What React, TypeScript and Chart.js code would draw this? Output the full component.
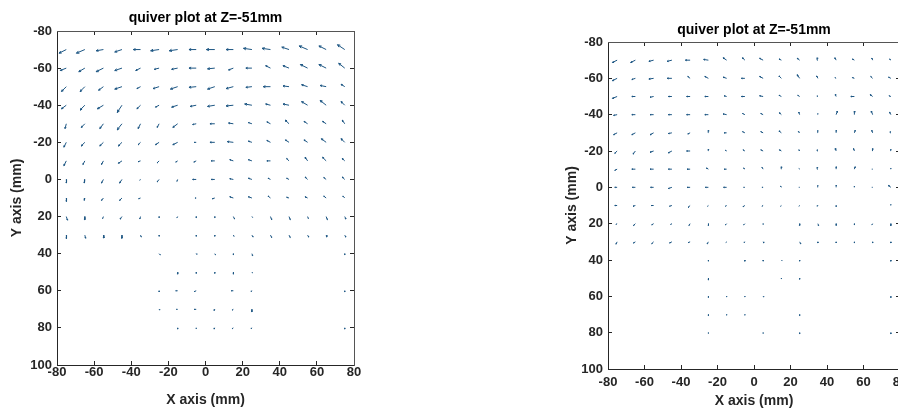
import React, { useEffect, useRef } from 'react';
import { Chart, registerables } from 'chart.js';

Chart.register(...registerables);

// ---------- data ----------
const TITLE = 'quiver plot at Z=-51mm';
const X_LABEL = 'X axis (mm)';
const Y_LABEL = 'Y axis (mm)';

const X_TICKS = [-80, -60, -40, -20, 0, 20, 40, 60, 80];
const Y_TICKS = [-80, -60, -40, -20, 0, 20, 40, 60, 80, 100];

// grid positions of the arrows (mm)
const X_GRID = [-75, -65, -55, -45, -35, -25, -15, -5, 5, 15, 25, 35, 45, 55, 65, 75];
const Y_ROWS = [-70, -60, -50, -40, -30, -20, -10, 0, 10, 20, 30, 40, 50, 60, 70, 80];

const n = null;

// left panel: arrow components (rows = Y_ROWS, columns = X_GRID)
const LEFT_U: (number | null)[][] = [
  [-3, -3.5, -3, -3, -3, -3.5, -3.5, -3, -3.5, -3, -3.5, -3.5, -3, -3.5, -3, -3],
  [-2.5, -2.5, -3, -3, -2, -2, -2.5, -3, -3, -2, -2.5, -2, -2.5, -3, -3, -2.5],
  [-2, -2, -2, -3, -1.5, -2.5, -3, -3, -3, -3, -2.5, -3, -2.5, -2.5, -2.5, -1.5],
  [-2, -2, -2.5, -2, -1.5, -1.5, -2.5, -2.5, -3, -3, -3, -2, -2.5, -2.5, -2.5, -1.5],
  [-0.5, -1.5, -1.5, -2, -1, -0.8, -2, -1.5, -2, -2, -1.5, -1.5, -1.5, -1.5, -1.5, -1],
  [-1, -1.5, -1.5, -1.5, -1, -1.5, -2, -0.8, -2, -2.5, -1.5, -1.5, -1.5, -1.5, -2, -1.5],
  [-1, -0.8, -0.8, -1.5, -1, -0.8, -0.8, -1, -1.5, -1.5, -1.5, -1.5, -1, -1, -1.5, -1],
  [0, -0.3, -0.8, -1, -0.3, -0.8, -0.3, -1.5, -1.5, -1.5, -1.5, -1, -1, -1, -1, -1],
  [0, -0.3, -0.8, -1, -0.8, n, n, -0.5, -1, -1.5, -1.5, -1, -1, -1, -1, -0.8],
  [0.5, 0, -0.3, -0.8, -0.3, 0, -0.3, 0, 0, 0.5, 0.3, 0.5, 0.5, 0.3, 0.5, 0.5],
  [0, 0.3, 0.2, 0, 0.3, 0, n, 0, 0, 0.3, 0.5, 0.5, 0.5, 0.5, 0.3, 0.5],
  [n, n, n, n, n, 0.5, n, 0.3, 0.3, 0, 0.3, n, n, n, n, 0],
  [n, n, n, n, n, n, 0, 0, 0, 0, 0.3, n, n, n, n, n],
  [n, n, n, n, n, 0, -0.8, -0.8, n, -0.8, -0.3, n, n, n, n, 0],
  [n, n, n, n, n, 0.3, -0.5, -0.8, -0.3, -0.5, 0, n, n, n, n, n],
  [n, n, n, n, n, n, 0, 0, -0.3, -0.5, -0.3, n, n, n, n, 0],
];
const LEFT_V: (number | null)[][] = [
  [1.5, 1.5, 0.5, 1, 0, 0.5, 0.5, 0, 0, 0, -0.5, -0.5, -1, -1.5, -1.5, -2],
  [1, 1.5, 1.5, 1, 1, 0.5, 0.5, 0, 0.3, 0.8, 0, -1, -1, -1.5, -1.5, -2],
  [2, 2, 1.5, 1, 0.8, 0.8, 1, 0.3, 1, 0.8, 0.3, 0, -0.3, -0.8, -0.5, -1],
  [1.5, 2, 1.5, 3, 1.5, 0.8, 0.8, 0.5, 0.5, 0.3, -0.5, -0.5, -0.5, -1.5, -2, -1.5],
  [2, 1.5, 2, 2.5, 2, 1.5, 1.5, 0.3, 0, -0.3, -0.5, -0.8, -1.5, -1, -1, -1.5],
  [2, 1.5, 1.5, 1.5, 1, 1, 1, 0, 0, -0.3, -0.5, -0.8, -1, -1, -1.5, -1.5],
  [2, 1.5, 1.5, 1, 0.3, 0.8, 0.5, 0.5, 0, -0.5, -0.5, 0, -1, -1.5, -1.5, -1],
  [1.5, 1.5, 1.5, 1.5, 0.3, 1, 0.8, 0, 0, -0.3, -0.5, -0.5, -0.5, -1, -0.8, -1],
  [1.5, 1, 1, 1, 0.3, n, n, 0, 0.3, -0.5, -0.5, -0.8, -0.3, -0.5, -0.8, -0.8],
  [1.5, 1.3, 0.8, 1, 1, 0.5, 0.5, 0.5, 0.5, 1, 0.3, 1.3, 1.3, 0.8, 1.3, 1],
  [1.5, 1.3, 1.2, 1.3, 0.8, 0.5, n, 0.5, 0.5, 0.5, 0.8, 1, 1, 0.8, 0.8, 0.8],
  [n, n, n, n, n, 0.5, n, 0.3, 0.5, 0.5, 0.8, n, n, n, n, 0.5],
  [n, n, n, n, n, n, 0.8, 0.5, 0.5, 0.8, 0.3, n, n, n, n, n],
  [n, n, n, n, n, 0.5, 0, 0.3, n, 0, 0.3, n, n, n, n, 0.5],
  [n, n, n, n, n, 0.3, 0, 0, 0.5, 0.3, 1, n, n, n, n, n],
  [n, n, n, n, n, n, 0.5, 0.3, 0.5, 0.3, 0.3, n, n, n, n, 0.5],
];

// right panel
const RIGHT_U: (number | null)[][] = [
  [-2, -2, -2, -2, -2, -2, -1.5, -1, -1.5, -1, -1, -0.3, -0.5, -0.8, -0.3, -0.5],
  [-2, -1.5, -2, -2, -1, -1.5, -1.5, -1.5, -1.5, -1, -1, -0.5, -0.5, -0.8, -0.8, -1],
  [-2, -1.5, -1.5, -1.5, -1.5, -1.5, -1, -1.5, -1.5, -1, -0.8, -0.3, -0.3, -1.5, -1, -0.8],
  [-1.5, -1.5, -1.5, -1.5, -1.5, -1.5, -1.5, -1, -1, -0.8, -0.3, 0, 0.5, 0, -0.5, -0.5],
  [-1.5, -1.5, -1.5, -1.5, -1, 0, -1, -1, -1, -1, -0.5, 0, 0, 0.3, -0.3, -0.3],
  [-1, -1, -1.5, -1.5, -1.5, 0, -0.5, -0.8, -1, -0.8, -0.3, -0.3, -0.3, -0.3, 0, 0],
  [-1, -1.5, -1.5, -1.5, -1.3, -0.8, -1, -0.5, -0.5, 0, -0.3, -0.3, 0, 0.3, -0.3, 0],
  [-1, -1.3, -1.3, -1.5, -1.3, -1.3, -1.3, -0.5, -0.5, -0.3, -0.3, 0, 0, 0, -0.3, -1],
  [-1, -1, -1, -1, -0.8, -0.3, -0.5, -0.8, -0.5, -0.3, -0.3, -0.3, 0, n, n, 0],
  [-0.5, -0.8, -0.8, -0.5, -0.5, 0, -0.5, -0.5, 0, n, 0, 0.3, 0, 0, -0.3, 0],
  [-0.5, -0.8, -0.8, -1, -0.8, -0.5, -0.3, -0.3, 0.3, n, 0.5, 0, 0, 0, 0, 0],
  [n, n, n, n, n, 0, n, 0, 0, 0.3, 0, n, n, n, n, 0],
  [n, n, n, n, n, 0, n, n, n, 0, 0, n, n, n, n, n],
  [n, n, n, n, n, 0, 0, 0, 0.3, n, n, n, n, n, n, 0],
  [n, n, n, n, n, 0, 0, 0, n, n, 0, n, n, n, n, n],
  [n, n, n, n, n, 0, n, n, 0, n, 0, n, n, n, n, 0],
];
const RIGHT_V: (number | null)[][] = [
  [1, 1, 0.5, 0.5, 0, -0.3, -1, -1, -0.8, -0.5, -0.8, -1, -1, -0.5, -0.8, -0.5],
  [1, 0.5, 0.3, 0, -0.8, -0.8, -0.5, 0, -0.8, -1, -1.5, -1, -0.3, -0.3, -0.8, -0.5],
  [0.8, 0, 0.3, 0, 0, 0, -0.3, 0, -0.3, -0.5, -0.5, -0.3, -0.8, 0, -0.8, -0.3],
  [0.3, 0, 0, 0, 0, 0, -0.3, -0.5, -0.5, -0.8, -1, -0.5, -1.5, -1.5, -1.5, -1],
  [0.8, 0.8, 0.8, 0.3, 0.5, -1, 0, -0.5, -0.5, -0.8, -0.5, -1, -1, -1, -1, -0.5],
  [1, 1.3, 0.5, 0.8, 0, -0.8, -0.3, -0.5, -0.5, -0.5, -0.5, -0.5, -1, -1, -1, -0.8],
  [0.5, 0, 0, 0, 0, -0.5, 0, -0.5, -0.8, -1, -0.3, -0.8, -1, -1, 0, -0.5],
  [0, 0, 0, 0.5, 0, 0, 0, 0, 0, -0.5, 0, -0.8, -0.8, -0.5, 0, -0.8],
  [0, 0.3, 0, 0.3, 0.8, 0.3, 0.3, 0.5, 0.3, 0.3, 0.3, 0.3, 0.5, n, n, -0.5],
  [0.3, 0.8, 0.5, 0.3, 0.8, 0.8, 0.5, 0.5, 0.3, n, 0.8, 0.8, 0.8, 0.5, 0.5, 0.8],
  [1, 0.5, 0.8, 0.5, 0.3, 0.8, 0.3, 0.3, 0.5, n, 0.8, 0.5, 0.5, 0.5, 0.5, 0.5],
  [n, n, n, n, n, 0.5, n, 0.5, 0.5, 0.3, 0.5, n, n, n, n, 0.5],
  [n, n, n, n, n, 0.8, n, n, n, 0.3, 0.5, n, n, n, n, n],
  [n, n, n, n, n, 0.5, 0.3, 0.3, 0.3, n, n, n, n, n, n, 0.5],
  [n, n, n, n, n, 0.5, 0.3, 0.3, n, n, 0.5, n, n, n, n, n],
  [n, n, n, n, n, 0.3, n, n, 0.3, n, 0.5, n, n, n, n, 0.5],
];

// ---------- styling ----------
const FONT = "'Liberation Sans', Arial, Helvetica, sans-serif";
const TEXT = '#262626';
const ARROW_COLOR = '#1d5683';
const ARROW_SCALE = 1.3;
const HEAD_FRAC = 0.33;
const HEAD_ANGLE = (25 * Math.PI) / 180;

type Pt = { x: number; y: number };

function buildSegments(U: (number | null)[][], V: (number | null)[][]): Pt[] {
  const pts: Pt[] = [];
  const gap = { x: NaN, y: NaN };
  Y_ROWS.forEach((y0, i) => {
    X_GRID.forEach((x0, j) => {
      const u = U[i][j];
      const v = V[i][j];
      if (u === null || v === null) return;
      const x1 = x0 + u * ARROW_SCALE;
      const y1 = y0 + v * ARROW_SCALE;
      const bx = -(x1 - x0) * HEAD_FRAC;
      const by = -(y1 - y0) * HEAD_FRAC;
      const c = Math.cos(HEAD_ANGLE);
      const s = Math.sin(HEAD_ANGLE);
      const h1 = { x: x1 + bx * c - by * s, y: y1 + bx * s + by * c };
      const h2 = { x: x1 + bx * c + by * s, y: y1 - bx * s + by * c };
      pts.push({ x: x0, y: y0 }, { x: x1, y: y1 }, h1, gap, { x: x1, y: y1 }, h2, gap);
    });
  });
  return pts;
}

type PanelLayout = {
  padLeft: number;
  padRight: number;
  titleTop: number;
  titleBottom: number;
  xHeight: number;
  xTickPad: number;
  xTitleBottom: number;
  yWidth: number;
  yTickPad: number;
  yTitleTop: number;
};

function makeConfig(U: (number | null)[][], V: (number | null)[][], p: PanelLayout): any {
  const tickFont = { family: FONT, size: 13, weight: 'bold' };
  const labelFont = { family: FONT, size: 14, weight: 'bold' };
  const innerGrid = { drawOnChartArea: false, drawTicks: true, tickLength: -4, color: TEXT, lineWidth: 1 };
  const setX = (s: any) => { s.ticks = X_TICKS.map((value) => ({ value })); };
  const setY = (s: any) => { s.ticks = Y_TICKS.map((value) => ({ value })); };
  return {
    type: 'scatter',
    data: {
      datasets: [
        {
          data: buildSegments(U, V),
          showLine: true,
          spanGaps: false,
          borderColor: ARROW_COLOR,
          borderWidth: 1,
          pointRadius: 0,
          pointHoverRadius: 0,
          fill: false,
          xAxisID: 'x',
          yAxisID: 'y',
        },
      ],
    },
    options: {
      responsive: false,
      animation: false,
      devicePixelRatio: 1,
      events: [],
      layout: { padding: { left: p.padLeft, right: p.padRight, top: 0, bottom: 0 } },
      plugins: {
        legend: { display: false },
        tooltip: { enabled: false },
        title: {
          display: true,
          text: TITLE,
          fullSize: false,
          color: '#000',
          font: labelFont,
          padding: { top: p.titleTop, bottom: p.titleBottom },
        },
      },
      scales: {
        x: {
          type: 'linear',
          position: 'bottom',
          min: -80,
          max: 80,
          afterBuildTicks: setX,
          afterFit: (s: any) => { s.height = p.xHeight; },
          ticks: { color: TEXT, font: tickFont, padding: p.xTickPad, maxRotation: 0, autoSkip: false },
          grid: innerGrid,
          border: { display: true, color: TEXT, width: 1 },
          title: { display: true, text: X_LABEL, color: TEXT, font: labelFont, padding: { top: 0, bottom: p.xTitleBottom } },
        },
        y: {
          type: 'linear',
          position: 'left',
          reverse: true,
          min: -80,
          max: 100,
          afterBuildTicks: setY,
          afterFit: (s: any) => { s.width = p.yWidth; },
          ticks: { color: TEXT, font: tickFont, padding: p.yTickPad, autoSkip: false },
          grid: innerGrid,
          border: { display: true, color: TEXT, width: 1 },
          title: { display: true, text: Y_LABEL, color: TEXT, font: labelFont, padding: { top: p.yTitleTop, bottom: 0 } },
        },
        x2: {
          type: 'linear',
          position: 'top',
          min: -80,
          max: 80,
          afterBuildTicks: setX,
          afterFit: (s: any) => { s.height = 0; },
          ticks: { display: false },
          grid: innerGrid,
          border: { display: true, color: '#555', width: 1 },
        },
        y2: {
          type: 'linear',
          position: 'right',
          reverse: true,
          min: -80,
          max: 100,
          afterBuildTicks: setY,
          afterFit: (s: any) => { s.width = 0; },
          ticks: { display: false },
          grid: innerGrid,
          border: { display: true, color: '#555', width: 1 },
        },
      },
    },
  };
}

const LEFT_LAYOUT: PanelLayout = {
  padLeft: 0,
  padRight: 95,
  titleTop: 10.1,
  titleBottom: 4.1,
  xHeight: 45,
  xTickPad: 4,
  xTitleBottom: 1.6,
  yWidth: 57,
  yTickPad: 9,
  yTitleTop: 8.6,
};

const RIGHT_LAYOUT: PanelLayout = {
  padLeft: 100,
  padRight: 50,
  titleTop: 22.1,
  titleBottom: 3.1,
  xHeight: 41,
  xTickPad: 10,
  xTitleBottom: 0,
  yWidth: 58,
  yTickPad: 9,
  yTitleTop: 13.6,
};

function Panel(props: { U: (number | null)[][]; V: (number | null)[][]; layout: PanelLayout; left: number; width: number }) {
  const ref = useRef<HTMLCanvasElement | null>(null);
  useEffect(() => {
    if (!ref.current) return;
    const chart = new Chart(ref.current, makeConfig(props.U, props.V, props.layout));
    return () => chart.destroy();
  }, []);
  return (
    <canvas
      ref={ref}
      width={props.width}
      height={410}
      style={{ position: 'absolute', left: props.left, top: 0, width: props.width, height: 410 }}
    />
  );
}

export default function App() {
  return (
    <div
      style={{
        position: 'fixed',
        left: 0,
        top: 0,
        width: 898,
        height: 410,
        overflow: 'hidden',
        background: '#fff',
      }}
    >
      <Panel U={LEFT_U} V={LEFT_V} layout={LEFT_LAYOUT} left={0} width={449} />
      <Panel U={RIGHT_U} V={RIGHT_V} layout={RIGHT_LAYOUT} left={450} width={500} />
    </div>
  );
}
